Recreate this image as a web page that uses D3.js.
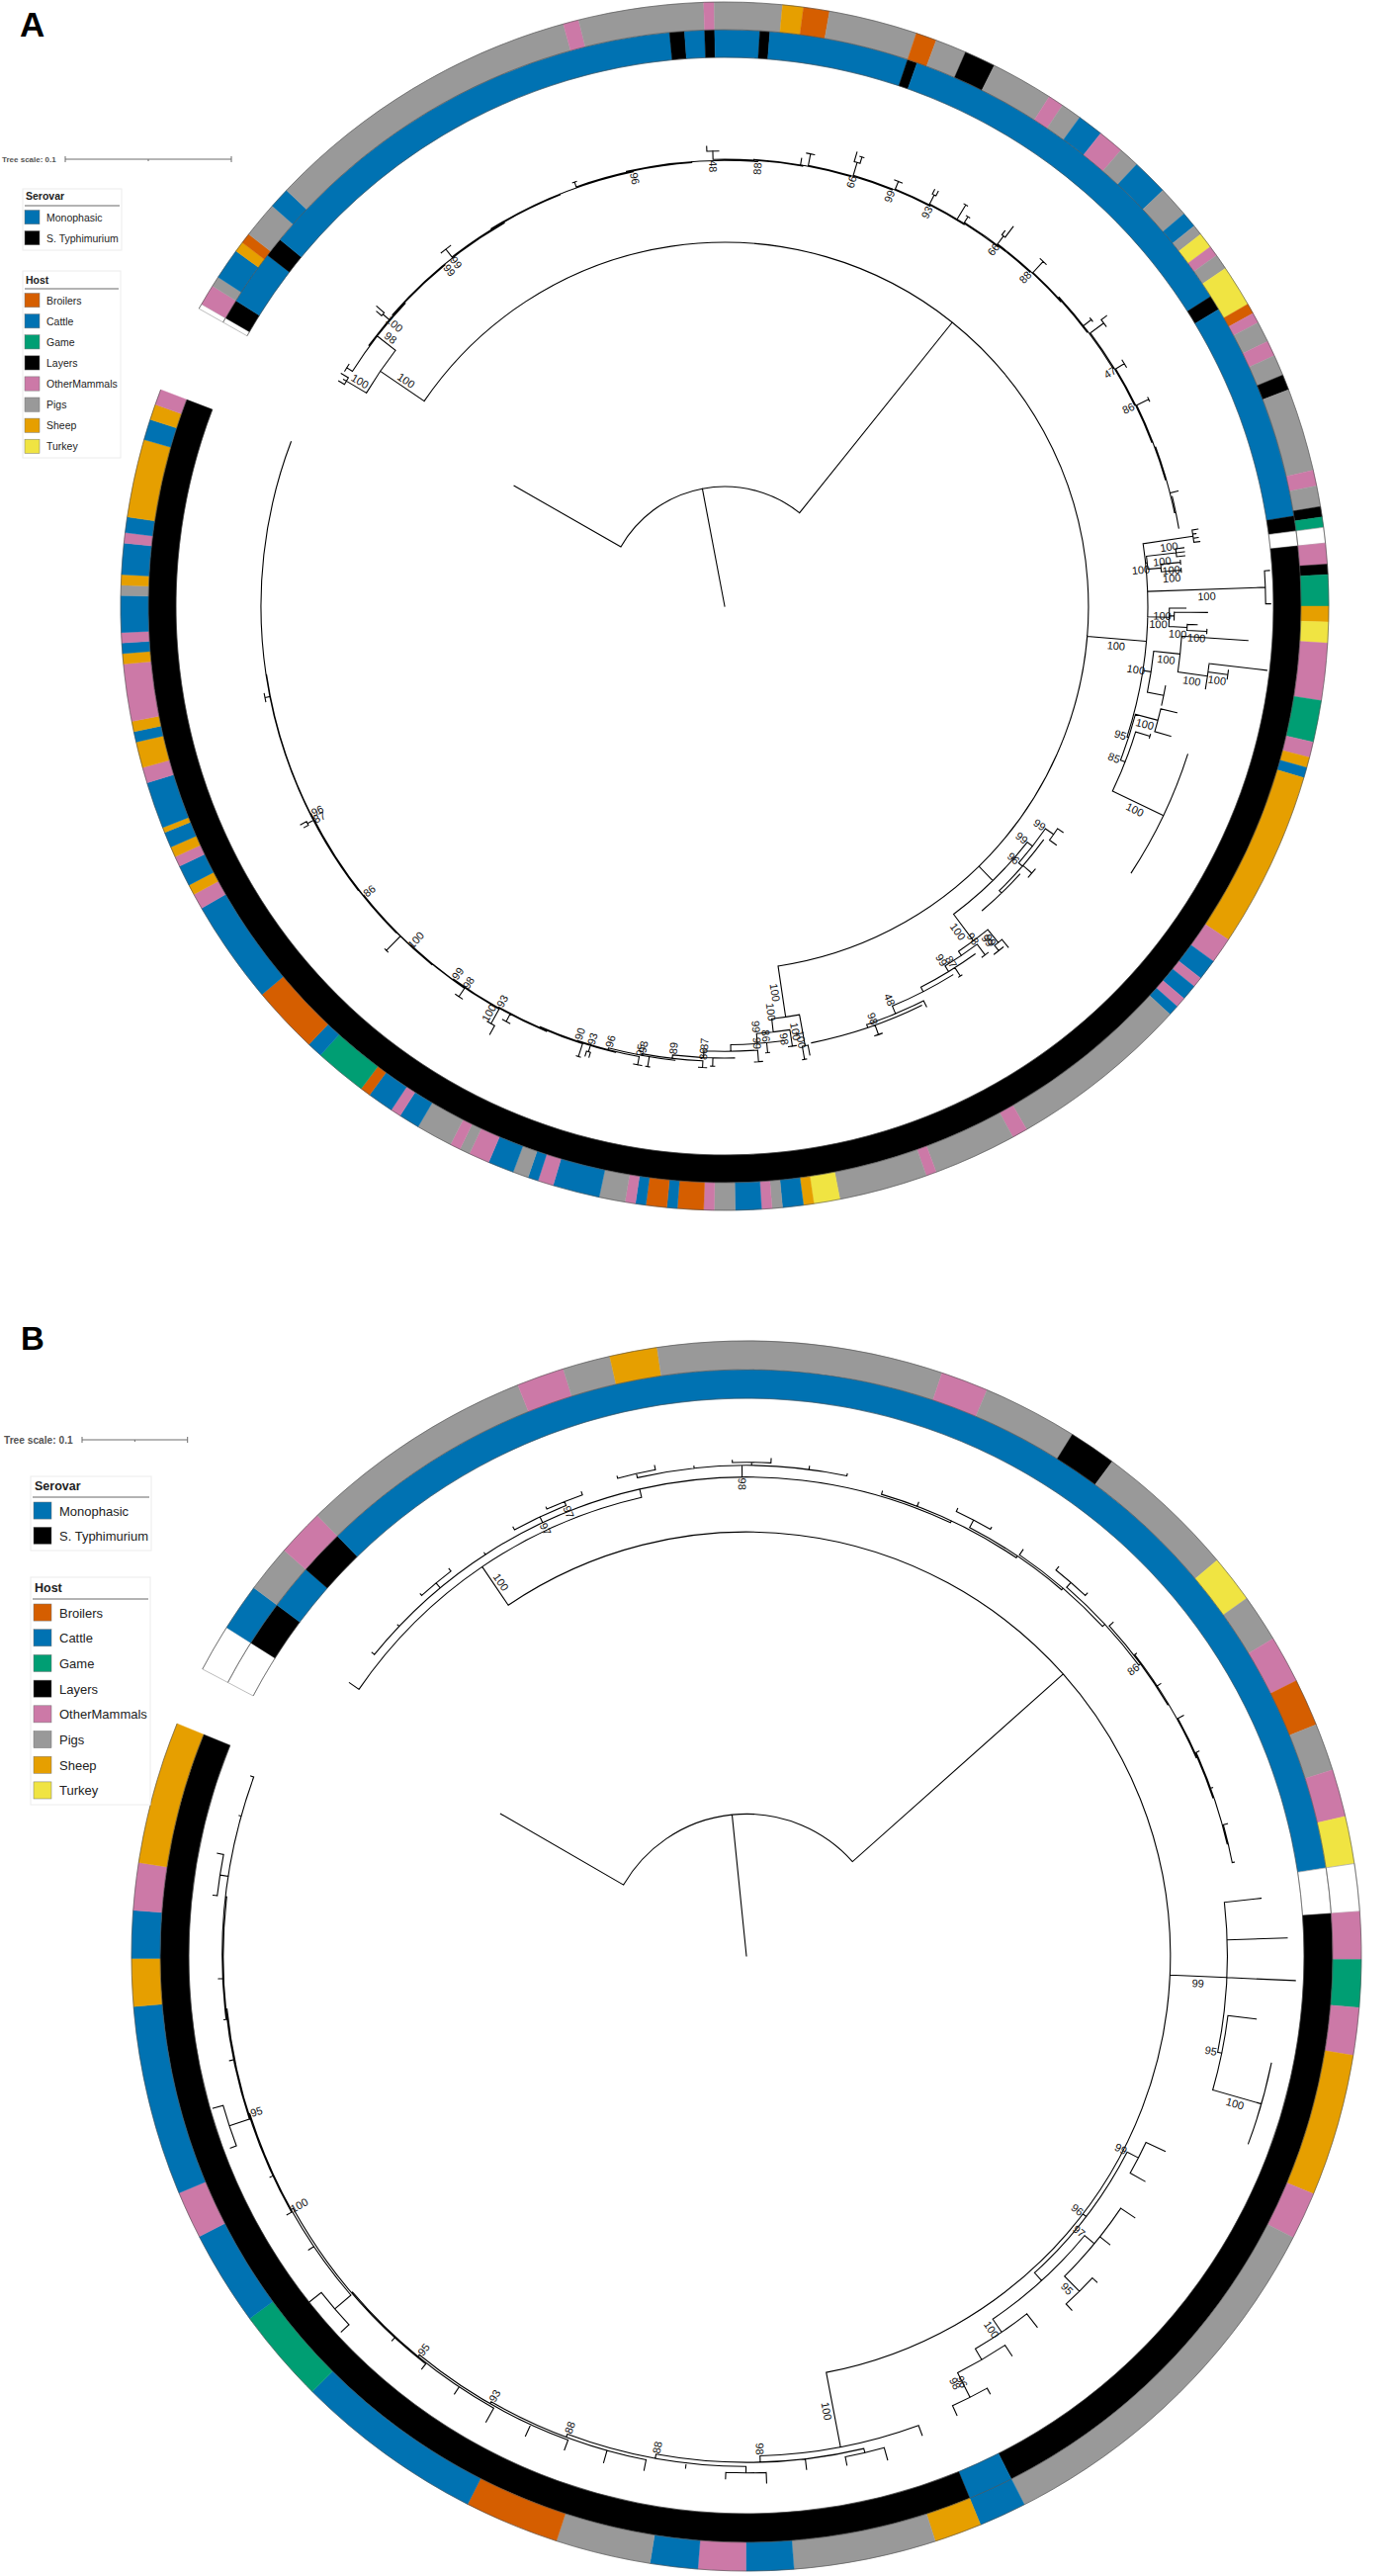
<!DOCTYPE html>
<html>
<head>
<meta charset="utf-8">
<script src="https://cdn.jsdelivr.net/npm/d3@7"></script>
<style>
  body { margin: 0; background: #fff; }
  svg { display: block; font-family: "Liberation Sans", Arial, sans-serif; }
</style>
</head>
<body>
<svg id="chart" width="1411" height="2605"></svg>
<script>
// ---- categories ----
const hostCategories = ["Broilers", "Cattle", "Game", "Layers", "OtherMammals", "Pigs", "Sheep", "Turkey"];
const hostColors = ["#d55e00", "#0072b2", "#009e73", "#000000", "#cc79a7", "#999999", "#e69f00", "#f0e442"];
const serovarCategories = ["Monophasic", "S. Typhimurium"];
const serovarColors = ["#0072b2", "#000000"];

// ---- ring data: [category, isolates], clockwise from the open gap ("none" = no metadata) ----
const hostRunsA = [
  ["none", 1], ["OtherMammals", 4], ["Pigs", 2], ["Cattle", 6], ["Sheep", 2], ["Broilers", 2], ["Pigs", 7],
  ["Cattle", 4], ["Pigs", 62], ["OtherMammals", 3], ["Pigs", 24], ["OtherMammals", 2], ["Pigs", 13],
  ["Sheep", 4], ["Broilers", 5], ["Pigs", 17], ["Broilers", 4], ["Pigs", 6], ["Layers", 6], ["Pigs", 12],
  ["OtherMammals", 3], ["Pigs", 4], ["Cattle", 5], ["OtherMammals", 5], ["Pigs", 4], ["Cattle", 7],
  ["Pigs", 6], ["Cattle", 3], ["Pigs", 2], ["Turkey", 3], ["OtherMammals", 2], ["Pigs", 3], ["Turkey", 8],
  ["Broilers", 2], ["OtherMammals", 2], ["Pigs", 4], ["OtherMammals", 3], ["Pigs", 4], ["Layers", 3],
  ["Pigs", 16], ["OtherMammals", 3], ["Pigs", 4], ["Layers", 2], ["Game", 2], ["none", 3],
  ["OtherMammals", 4], ["Layers", 2], ["Game", 6], ["Sheep", 3], ["Turkey", 4], ["OtherMammals", 11],
  ["Game", 8], ["OtherMammals", 3], ["Sheep", 2], ["Cattle", 2], ["Sheep", 34], ["OtherMammals", 5],
  ["Cattle", 4], ["OtherMammals", 2], ["Cattle", 3], ["OtherMammals", 2], ["Cattle", 2], ["Pigs", 35],
  ["OtherMammals", 3], ["Pigs", 16], ["OtherMammals", 2], ["Pigs", 17], ["Turkey", 5], ["Sheep", 2],
  ["Cattle", 4], ["Pigs", 2], ["OtherMammals", 2], ["Cattle", 5], ["Pigs", 4], ["OtherMammals", 2],
  ["Broilers", 5], ["Cattle", 2], ["Broilers", 4], ["Cattle", 2], ["OtherMammals", 2], ["Pigs", 5],
  ["Cattle", 9], ["OtherMammals", 3], ["Cattle", 2], ["Pigs", 3], ["Cattle", 5], ["OtherMammals", 4],
  ["Pigs", 2], ["OtherMammals", 2], ["Pigs", 7], ["Cattle", 4], ["OtherMammals", 2], ["Cattle", 5],
  ["Broilers", 2], ["Game", 10], ["Cattle", 3], ["Broilers", 13], ["Cattle", 20], ["OtherMammals", 3],
  ["Sheep", 2], ["Cattle", 4], ["OtherMammals", 2], ["Sheep", 2], ["Cattle", 3], ["Sheep", 1], ["Cattle", 9],
  ["OtherMammals", 3], ["Sheep", 5], ["Cattle", 2], ["Sheep", 2], ["OtherMammals", 11], ["Sheep", 2],
  ["Cattle", 2], ["OtherMammals", 2], ["Cattle", 7], ["Pigs", 2], ["Sheep", 2], ["Cattle", 6],
  ["OtherMammals", 2], ["Cattle", 3], ["Sheep", 15], ["Cattle", 4], ["Sheep", 3], ["OtherMammals", 3]
];
const serovarRunsA = [
  ["none", 1], ["S. Typhimurium", 4], ["Monophasic", 11], ["S. Typhimurium", 4], ["Monophasic", 90],
  ["S. Typhimurium", 3], ["Monophasic", 4], ["S. Typhimurium", 2], ["Monophasic", 9], ["S. Typhimurium", 2],
  ["Monophasic", 28], ["S. Typhimurium", 2], ["Monophasic", 76], ["S. Typhimurium", 3], ["Monophasic", 44],
  ["S. Typhimurium", 3], ["none", 3], ["S. Typhimurium", 414]
];
const hostRunsB = [
  ["none", 1], ["Cattle", 1], ["Pigs", 1], ["OtherMammals", 1], ["Pigs", 5], ["OtherMammals", 1], ["Pigs", 1],
  ["Sheep", 1], ["Pigs", 6], ["OtherMammals", 1], ["Pigs", 2], ["Layers", 1], ["Pigs", 3], ["Turkey", 1],
  ["Pigs", 1], ["OtherMammals", 1], ["Broilers", 1], ["Pigs", 1], ["OtherMammals", 1], ["Turkey", 1],
  ["none", 1], ["OtherMammals", 1], ["Game", 1], ["OtherMammals", 1], ["Sheep", 3], ["OtherMammals", 1],
  ["Pigs", 8], ["Cattle", 1], ["Sheep", 1], ["Pigs", 3], ["Cattle", 1], ["OtherMammals", 1], ["Cattle", 1],
  ["Pigs", 2], ["Broilers", 2], ["Cattle", 4], ["Game", 2], ["Cattle", 2], ["OtherMammals", 1], ["Cattle", 4],
  ["Sheep", 1], ["Cattle", 1], ["OtherMammals", 1], ["Sheep", 3]
];
const serovarRunsB = [
  ["none", 1], ["S. Typhimurium", 1], ["Monophasic", 1], ["S. Typhimurium", 1], ["Monophasic", 28],
  ["none", 1], ["S. Typhimurium", 15], ["Monophasic", 1], ["S. Typhimurium", 30]
];

// ---- trees: [branch length, bootstrap, ...children]; a number = that many zero-length tips,
//      a string = a ladder of nested steps listed below ----
const treeA = [0, null,
  [0.072, null,
    [0.074],
    [0.147, null,
      [0.032, 100, [0.014, 100, [0.004], [0.002], [0.005]], "top"],
      [0, null,
        [0.0357, 100,
          [0.0304, 100, [0.0036], [0.002], [0.003], [0.0036]],
          [0.001, null, [0.018, 100, [0.005], [0.005], [0.005]], [0.008, 100, [0.012, 100, 2], [0.012, 100, 2]]],
          [0.071, 100, [0.003], 6, [0.003]],
          [0.013, 100, [0.01], [0.003, 100, [0.02], 2], [0.011, 100, [0.006], [0.012, 100, 2]]],
          [0.005, 100, [0.016, 100, [0.04], 5, [0.018, 100, [0.035], [0.012, 100, 3], 3]], [0.01, null, 6]],
          [0.001, 95, [0.014, 100, [0.01], 5, [0.01]], [0.003, 85, [0.009, null, 2], [0.034, 100, 32]]]
        ],
        [0.012, null,
          [0.004, 99, [0.006, 99, [0.004], 3, [0.005]], [0.003, 96, 8, [0.007, null, 4], [0.002, null, 16]]],
          [0.02, 100, [0.01, 99, [0.006], [0.004, 99, 4]],
            [0.003, null, [0.008, 98, 3],
              [0.004, 99, 6, [0.006, 87, 2],
                [0.003, null, 10, [0.005, 48, [0.004], [0.002, null, 12, [0.006, 98, 3], 16]]]]]]
        ],
        "bottom"
      ]
    ]
  ]
];
const laddersA = {
  top: [
    [0.014, 98, [0.004, null, 3], 6], [0.0006, null, 8, [0.005, 100, [0.004], [0.006]]], [0.0005, 99, 20],
    [0.0006, null, [0.006, 99, 4], 10], [0.0005, null, 24], [0.0006, 96, [0.003, null, 2], 12],
    [0.0005, null, 21], [0.0007, 88, [0.005, 48, [0.003], 3], 8], [0.0005, null, 12, [0.004]],
    [0.0006, null, [0.007, null, 3], 9], [0.0006, 99, [0.008, 66, [0.006], [0.004, null, 2]], 8],
    [0.0005, 93, [0.005, null, 3], 7], [0.0006, null, [0.006, null, [0.003], [0.003]], 6, [0.01, null, 2]],
    [0.0006, null, [0.004, null, 2], 8], [0.0006, 88, [0.006, 66, [0.003], [0.008]], 9],
    [0.0005, null, [0.009, null, 3], 7], [0.0006, null, 9, [0.006, null, 2]],
    [0.0007, null, [0.01, null, [0.004], 2], 8], [0.0006, 86, [0.006, 47, 3], 8],
    [0.0006, null, [0.008, null, 2], 10], [0.0006, null, 12, [0.005]], [0.0008, null, 9]
  ],
  bottom: [
    [0.031, 100, [0.019, 100, [0.006], [0.008, 100, 2]]], [0.008, 100, [0.01, 98, 3]],
    [0.006, 99, 4, [0.006, 86, 2]], [0.004, null, [0.007, 99, 3], 4], [0.004, 87, 5, [0.005, null, 2]],
    [0.002, 89, [0.004, 86, 3], 5], [0.001, 93, 6, [0.006, null, 2]], [0.001, 96, [0.005, 95, 3], 4],
    [0.0005, 90, 6, [0.004, 93, [0.003], [0.003]]], [0.0005, null, [0.008, null, 2], 8],
    [0.0005, 93, 9, [0.005, null, 3]], [0.0005, 99, [0.01, 100, [0.006], 2], 7],
    [0.0003, 100, [0.006, 98, 3], 8], [0.0003, 86, 10, [0.012, null, 2]], [0.0003, 96, 14],
    [0.0003, null, 20, [0.004, 87, [0.003], [0.004]], 30, [0.003, null, 3], 63]
  ]
};

const treeB = [0, null,
  [0.1346, null,
    [0.1346],
    [0.2673, null,
      [0.044, 100, [0.011],
        [0.008, null, [0.003], [0.002], [0.006, null, [0.002], [0.003]], [0.002],
          [0.006, 97, [0.003], [0.004, 97, [0.002], [0.003]]],
          [0.011, 98, [0.004, null, [0.002], [0.004]], [0.002], [0.003, null, [0.002], [0.004]], [0.003], [0.002]],
          "top"]],
      [0, null,
        [0.054, 99, [0.035], [0.057], [0.065], [0.004, 95, [0.027], [0.048, 100, 3]]],
        [0.004, 96, [0.012, 99, [0.02], [0.016]],
          [0.01, null, [0.012, 97, [0.016], [0.012], [0.02, 95, [0.006], [0.008]]],
            [0.015, 100, [0.016], [0.012, null, [0.012], [0.016, 98, [0.01, 96, [0.006], [0.01]]]]]]],
        "bottom"
      ]
    ]
  ]
];
const laddersB = {
  top: [
    [0.002, null, [0.003], [0.004]], [0.002, null, [0.008, null, [0.003], [0.002]]], [0.002, null, [0.006]],
    [0.003, null, [0.006, null, [0.004], [0.003]]], [0.002, 86, [0.005]], [0.001, null, [0.002], [0.004]],
    [0.001, null, [0.006]], [0.001, null, [0.003], [0.002]], [0.001, null, [0.004], [0.002]]
  ],
  bottom: [
    [0.072, 100, [0.01]], [0.006, 98, [0.004, null, [0.012], [0.008]], [0.01]],
    [0.004, 88, [0.006, null, [0.01], [0.006]], [0.005]], [0.003, 88, [0.01], [0.012]],
    [0.002, 93, [0.01], [0.012]], [0.002, 95, [0.015], [0.008]], [0.001, null, [0.006], [0.004]],
    [0.002, 100, [0.02, null, [0.01], [0.02]], [0.006]], [0.001, 95, [0.005], [0.003]],
    [0.001, null, [0.02, null, [0.006], [0.01]], [0.004]],
    [0.001, null, [0.002], [0.004], [0], [0.008, null, [0.004], [0.006]], [0.002], [0.003]]
  ]
};

// ---- helpers ----
const svg = d3.select("#chart");
const hostColor = d3.scaleOrdinal(hostCategories, hostColors);
const serovarColor = d3.scaleOrdinal(serovarCategories, serovarColors);
const rad = (deg) => (deg * Math.PI) / 180;
const pointAt = (r, deg) => [r * Math.sin(rad(deg)), -r * Math.cos(rad(deg))];

// turn a list of ladder steps into nested specs (each step's last child is the next step)
const ladderSpec = (steps) => steps.reduceRight((next, step) => (next ? [...step, next] : step), null);

function buildTree(spec, ladders) {
  if (typeof spec === "string") spec = ladderSpec(ladders[spec]);
  const [len, support, ...kids] = spec;
  const node = { len, support: support ?? null, children: [] };
  kids.forEach((k) => {
    if (typeof k === "number") {
      d3.range(k).forEach(() => node.children.push({ len: 0, support: null, children: [] }));
    } else {
      node.children.push(buildTree(k, ladders));
    }
  });
  return node;
}

function drawRing(g, runs, angle, r0, r1, color) {
  const arc = d3.arc().innerRadius(r0).outerRadius(r1);
  let i = 0;
  const cells = runs.map(([cat, n]) => {
    const cell = { cat, startAngle: rad(angle(i)), endAngle: rad(angle(i + n)) };
    i += n;
    return cell;
  });
  g.append("g")
    .selectAll("path")
    .data(cells)
    .join("path")
    .attr("d", arc)
    .attr("fill", (d) => (d.cat === "none" ? "#fff" : color(d.cat)))
    .attr("stroke", (d) => (d.cat === "none" ? "#a0a0a0" : color(d.cat)))
    .attr("stroke-width", (d) => (d.cat === "none" ? 0.7 : 0.4));
  return i;
}

function drawPanel(cfg) {
  const g = svg.append("g").attr("transform", `translate(${cfg.cx},${cfg.cy})`);
  const root = d3.hierarchy(buildTree(cfg.tree, cfg.ladders));
  const leaves = root.leaves();
  const angle = d3.scaleLinear().domain([0, leaves.length]).range(cfg.arc);
  const radius = d3.scaleLinear().domain([0, 0.1]).range([0, cfg.scalePx]);

  leaves.forEach((d, i) => (d.angle = angle(i + 0.5)));
  root.eachAfter((d) => {
    if (d.children) d.angle = (d.children[0].angle + d.children[d.children.length - 1].angle) / 2;
  });
  root.eachBefore((d) => (d.r = d.parent ? d.parent.r + radius(d.data.len) : 0));

  // branches and arcs
  const p = d3.path();
  root.each((d) => {
    if (d.parent && d.r - d.parent.r > 0.01) {
      p.moveTo(...pointAt(d.parent.r, d.angle));
      p.lineTo(...pointAt(d.r, d.angle));
    }
    if (d.children && d.children.length > 1) {
      const a0 = d.children[0].angle;
      const a1 = d.children[d.children.length - 1].angle;
      p.moveTo(...pointAt(d.r, a0));
      p.arc(0, 0, d.r, rad(a0) - Math.PI / 2, rad(a1) - Math.PI / 2);
    }
  });
  g.append("path")
    .attr("d", p.toString())
    .attr("fill", "none")
    .attr("stroke", "#000")
    .attr("stroke-width", 1.1)
    .attr("stroke-linecap", "square");

  // bootstrap values
  const labelled = root.descendants().filter((d) => d.parent && d.data.support != null);
  g.append("g")
    .attr("font-size", cfg.labelSize)
    .attr("fill", "#111")
    .selectAll("text")
    .data(labelled)
    .join("text")
    .attr("text-anchor", "middle")
    .attr("dominant-baseline", "central")
    .attr("transform", (d) => {
      const branch = d.r - d.parent.r;
      let r, a;
      if (branch < 16) {
        r = d.parent.r - 7;
        a = d.angle;
      } else {
        r = (d.parent.r + d.r) / 2;
        a = d.angle + (7 / r) * (180 / Math.PI);
      }
      const [x, y] = pointAt(r, a);
      const norm = ((d.angle % 360) + 360) % 360;
      const rot = norm > 180 ? norm - 270 : norm - 90;
      return `translate(${x},${y}) rotate(${rot})`;
    })
    .text((d) => d.data.support);

  // metadata rings: serovar inside, host outside
  const [rIn, rMid, rOut] = cfg.rings;
  const nSer = drawRing(g, cfg.serovarRuns, angle, rIn, rMid, serovarColor);
  const nHost = drawRing(g, cfg.hostRuns, angle, rMid, rOut, hostColor);
  if (nSer !== leaves.length || nHost !== leaves.length) console.warn("ring/leaf mismatch", nSer, nHost, leaves.length);

  const edges = d3.path();
  [rIn, rMid, rOut].forEach((r) => {
    edges.moveTo(...pointAt(r, cfg.arc[0]));
    edges.arc(0, 0, r, rad(cfg.arc[0]) - Math.PI / 2, rad(cfg.arc[1]) - Math.PI / 2);
  });
  g.append("path")
    .attr("d", edges.toString())
    .attr("fill", "none")
    .attr("stroke", "#4a4a4a")
    .attr("stroke-width", 0.6);

  // tree scale bar
  const s = cfg.scaleBar;
  const bar = svg.append("g").attr("stroke", "#6d6d6d").attr("stroke-width", 1);
  const x1 = s.x + radius(0.1);
  bar.append("line").attr("x1", s.x).attr("x2", x1).attr("y1", s.y).attr("y2", s.y);
  [s.x, x1].forEach((x) => bar.append("line").attr("x1", x).attr("x2", x).attr("y1", s.y - 3).attr("y2", s.y + 3));
  const xm = s.x + radius(0.05);
  bar.append("line").attr("x1", xm).attr("x2", xm).attr("y1", s.y).attr("y2", s.y + 2);
  svg.append("text")
    .attr("x", s.textX)
    .attr("y", s.y)
    .attr("dy", "0.35em")
    .attr("font-size", s.font)
    .attr("font-weight", "bold")
    .attr("fill", "#555")
    .text("Tree scale: 0.1");

  svg.append("text")
    .attr("x", cfg.tag.x)
    .attr("y", cfg.tag.y)
    .attr("font-size", cfg.tag.size)
    .attr("font-weight", "bold")
    .attr("fill", "#000")
    .text(cfg.tag.text);
}

function drawLegend(o) {
  const g = svg.append("g");
  g.append("rect")
    .attr("x", o.x).attr("y", o.y).attr("width", o.w).attr("height", o.h)
    .attr("fill", "#fff").attr("stroke", "#ececec").attr("stroke-width", 1);
  g.append("text")
    .attr("x", o.x + o.pad + 1).attr("y", o.titleY)
    .attr("font-size", o.titleFont).attr("font-weight", "bold").attr("fill", "#222")
    .text(o.title);
  g.append("line")
    .attr("x1", o.x + 2).attr("x2", o.x + o.w - 2).attr("y1", o.lineY).attr("y2", o.lineY)
    .attr("stroke", "#9a9a9a").attr("stroke-width", 1.6);
  const item = g.selectAll("g.item").data(o.cats).join("g")
    .attr("transform", (d, i) => `translate(0,${o.first + i * o.step})`);
  item.append("rect")
    .attr("x", o.x + o.pad).attr("y", -o.sw / 2).attr("width", o.sw).attr("height", o.sw * 0.95)
    .attr("fill", (d) => o.color(d)).attr("stroke", "#777").attr("stroke-width", 0.5);
  item.append("text")
    .attr("x", o.textX).attr("y", 0).attr("dy", "0.35em")
    .attr("font-size", o.font).attr("fill", "#222")
    .text((d) => d);
}

// ---- panel A ----
drawPanel({
  cx: 733, cy: 613, tree: treeA, ladders: laddersA,
  arc: [299.5, 651.0], scalePx: 168, rings: [555, 583, 611],
  hostRuns: hostRunsA, serovarRuns: serovarRunsA, labelSize: 11,
  scaleBar: { x: 66, y: 161, textX: 2, font: 8 },
  tag: { x: 20, y: 37, size: 35, text: "A" }
});
drawLegend({ x: 23, y: 191, w: 100, h: 62, pad: 2, title: "Serovar", titleY: 202, lineY: 208,
  titleFont: 10.5, first: 220, step: 21, sw: 15, textX: 47, font: 10.5,
  cats: serovarCategories, color: serovarColor });
drawLegend({ x: 23, y: 274, w: 99, h: 189, pad: 2, title: "Host", titleY: 287, lineY: 292,
  titleFont: 10.5, first: 304, step: 21.1, sw: 15, textX: 47, font: 10.5,
  cats: hostCategories, color: hostColor });

// ---- panel B ----
drawPanel({
  cx: 755, cy: 1978, tree: treeB, ladders: laddersB,
  arc: [297.8, 652.2], scalePx: 106.7, rings: [564, 593, 622],
  hostRuns: hostRunsB, serovarRuns: serovarRunsB, labelSize: 11,
  scaleBar: { x: 83, y: 1456, textX: 4, font: 10.2 },
  tag: { x: 21, y: 1365, size: 33, text: "B" }
});
drawLegend({ x: 31, y: 1493, w: 122, h: 75, pad: 3, title: "Serovar", titleY: 1507, lineY: 1514,
  titleFont: 12.5, first: 1528, step: 25.3, sw: 18, textX: 60, font: 13,
  cats: serovarCategories, color: serovarColor });
drawLegend({ x: 31, y: 1595, w: 121, h: 230, pad: 3, title: "Host", titleY: 1610, lineY: 1617,
  titleFont: 12.5, first: 1631, step: 25.7, sw: 18, textX: 60, font: 13,
  cats: hostCategories, color: hostColor });
</script>
</body>
</html>
